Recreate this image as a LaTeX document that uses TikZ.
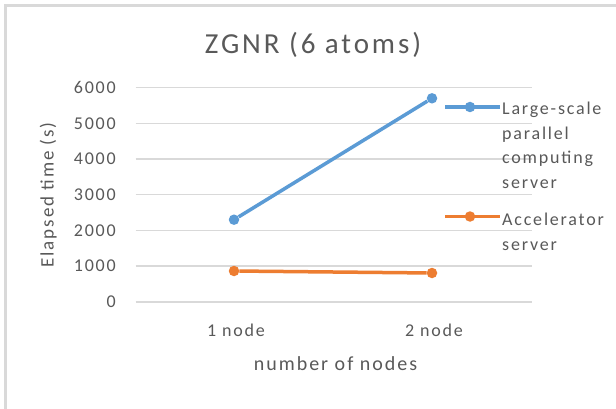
\documentclass[tikz,border=0pt]{standalone}
\usepackage{fontspec}
\setmainfont{Carlito}[LetterSpace=10]

\definecolor{gridgray}{HTML}{D9D9D9}
\definecolor{textgray}{HTML}{595959}
\definecolor{lineblue}{HTML}{5B9BD5}
\definecolor{lineorange}{HTML}{ED7D31}

\begin{document}
\begin{tikzpicture}[x=1pt, y=-1pt,
	lbl/.style={text=textgray, inner sep=0pt, font=\fontsize{18}{24}\selectfont},
	dot/.style={circle, fill=#1, minimum size=10.5pt, inner sep=0pt},
	series/.style={line width=3.5pt, color=#1}]

\useasboundingbox (0, 0) rectangle (616, 409);
\fill[white] (0, 0) rectangle (616, 409);
\draw[gridgray, line width=2.5pt] (5.5, 409) -- (5.5, 5.5) -- (616, 5.5);

\node[lbl, anchor=base, font=\fontsize{29}{34}\selectfont] (title) at (313, 54) {ZGNR (6 atoms)};

% grid and y ticks
\foreach \k/\v in {0/0, 1/1000, 2/2000, 3/3000, 4/4000, 5/5000, 6/6000} {
	\draw[gridgray, line width=1.5pt] (135.5, 301.8-35.7*\k) -- (532, 301.8-35.7*\k);
	\node[lbl, anchor=east] (tick\k) at (116, 301.8-35.7*\k) {\v};
}

\node[lbl, rotate=90, anchor=base, font=\fontsize{19}{24}\selectfont] (ylabel) at (53.5, 195) {Elapsed time (s)};

\node[lbl, anchor=base] (cat1) at (236, 336.5) {1 node};
\node[lbl, anchor=base] (cat2) at (434, 336.5) {2 node};
\node[lbl, anchor=base, font=\fontsize{20}{24}\selectfont] (xlabel) at (335.5, 370) {number of nodes};

% data
\node[dot=lineblue] (b1) at (234, 219.7) {};
\node[dot=lineblue] (b2) at (432, 98.3) {};
\node[dot=lineorange] (o1) at (234, 271) {};
\node[dot=lineorange] (o2) at (432, 273) {};
\draw[series=lineblue] (b1) -- (b2);
\draw[series=lineorange] (o1) -- (o2);

% legend
\coordinate (lb1) at (445, 107);
\coordinate (lb2) at (500, 107);
\coordinate (lo1) at (445, 216.5);
\coordinate (lo2) at (500, 216.5);
\draw[series=lineblue] (lb1) -- (lb2);
\draw[series=lineorange] (lo1) -- (lo2);
\node[dot=lineblue] (lbdot) at (470, 107) {};
\node[dot=lineorange] (lodot) at (470, 216.5) {};

% multi-line text sits on the baseline of its last line
\node[lbl, anchor=base west, align=left, font=\fontsize{18}{24.4}\selectfont] (lbtext) at (502, 188.2) {Large-scale\\parallel\\computing\\server};
\node[lbl, anchor=base west, align=left, font=\fontsize{18}{25}\selectfont] (lotext) at (502, 250) {Accelerator\\server};

\end{tikzpicture}
\end{document}
